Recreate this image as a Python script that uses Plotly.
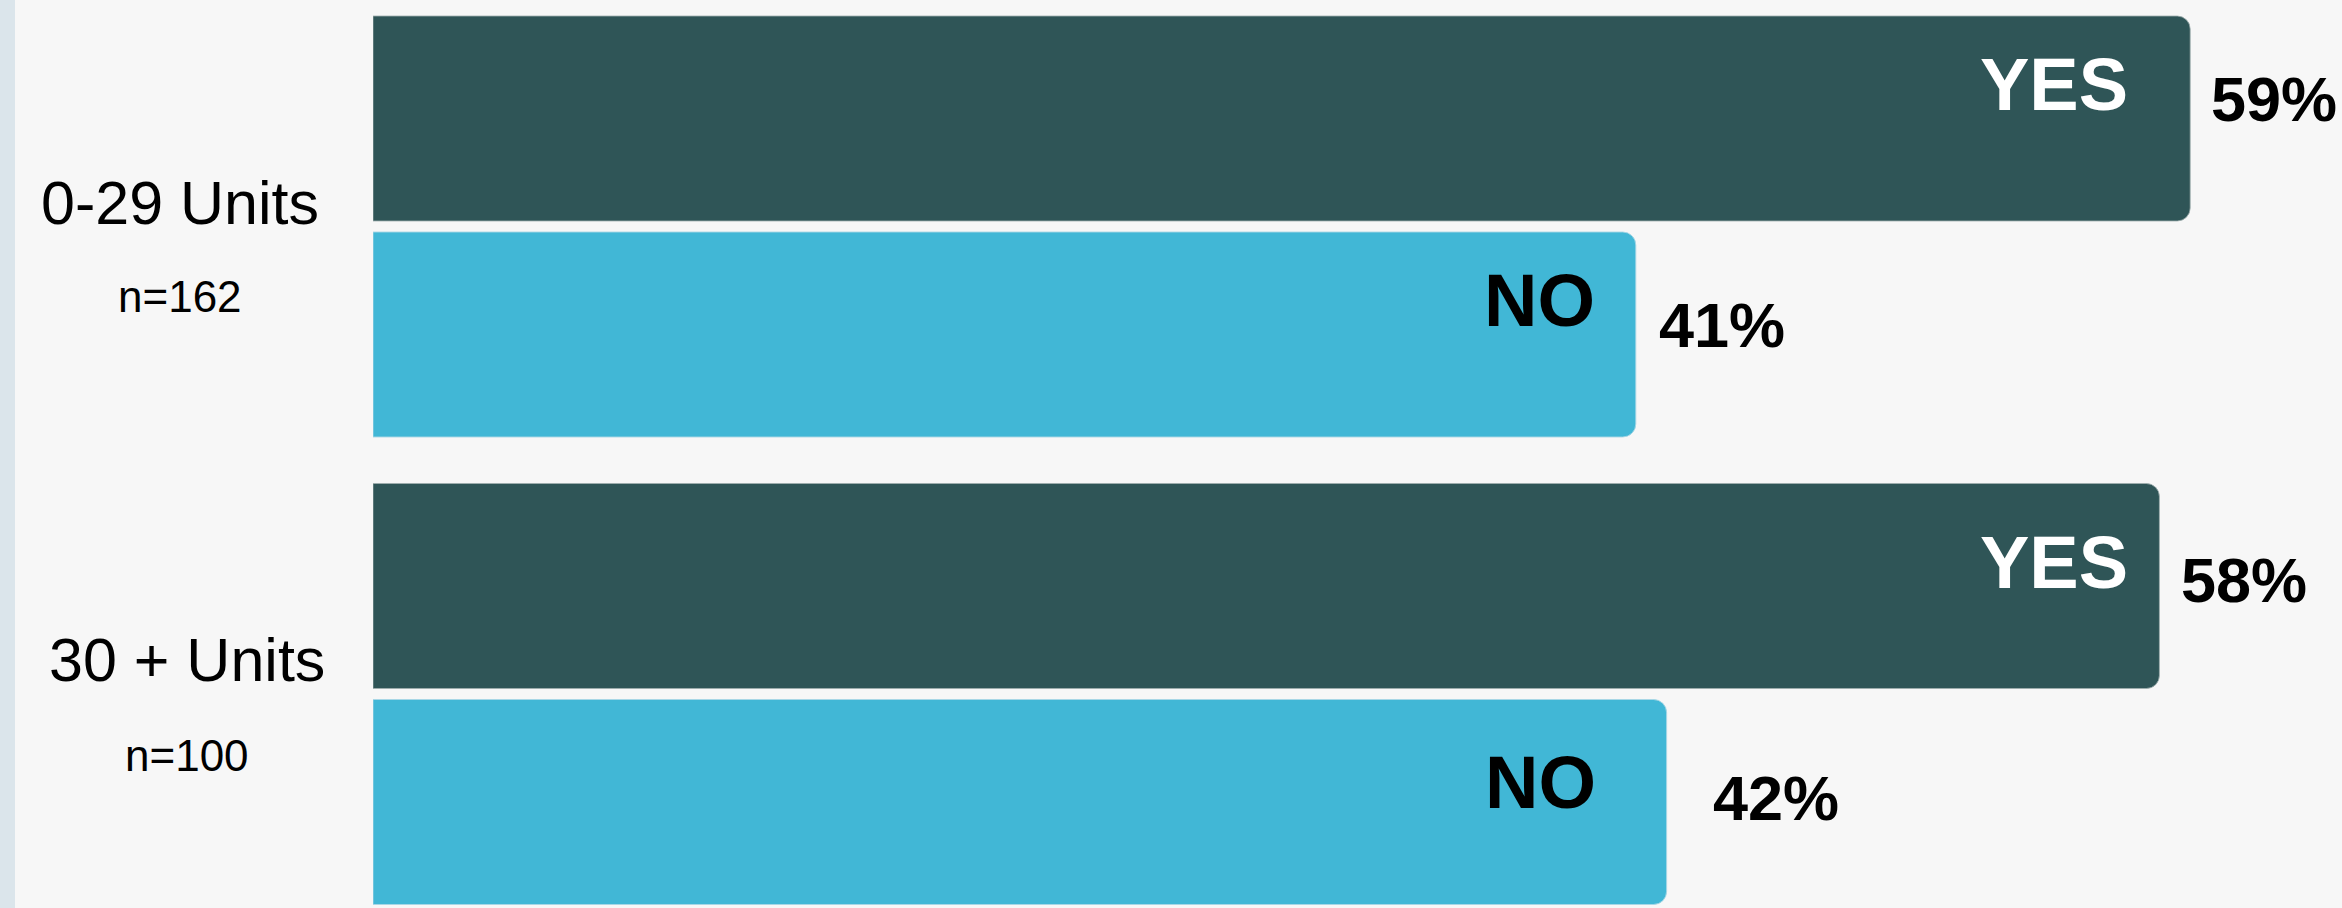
import plotly.graph_objects as go

# ---------------- data ----------------
categories = ["0-29 Units", "30 + Units"]
sample_sizes = ["n=162", "n=100"]
series_names = ["YES", "NO"]
yes_values = [59, 58]
no_values = [41, 42]

# ---------------- layout constants ----------------
W, H = 2342, 908
L = 373                      # left margin (bar baseline)
PX_PER_UNIT = 30.8
X_MAX = (W - L) / PX_PER_UNIT
FONT = "Liberation Sans, Arial, Helvetica, sans-serif"
BG = "#f7f7f7"
DARK = "#2f5557"
LIGHT = "#41b7d6"

fig = go.Figure()
fig.add_bar(
    y=categories, x=yes_values, orientation="h", name=series_names[0],
    marker=dict(color=DARK, line=dict(color="rgba(160,175,175,0.8)", width=1)),
    hoverinfo="skip",
)
fig.add_bar(
    y=categories, x=no_values, orientation="h", name=series_names[1],
    marker=dict(color=LIGHT, line=dict(color="rgba(170,215,230,0.9)", width=1)),
    hoverinfo="skip",
)

annotations = []

# inner labels (YES / NO) – shifts relative to bar tips, vertical shift relative to category centre
inner_specs = [
    (yes_values, series_names[0], "white", [-62, -31], [142.5, 131.5]),
    (no_values, series_names[1], "black", [-41, -71], [-74, -88]),
]
for vals, label, color, xs, ys in inner_specs:
    for i, cat in enumerate(categories):
        annotations.append(dict(
            x=vals[i], y=i, xref="x", yref="y", text=f"<b>{label}</b>",
            showarrow=False, xanchor="right", yanchor="middle",
            xshift=xs[i], yshift=ys[i], borderpad=0, borderwidth=0,
            font=dict(family=FONT, size=74, color=color),
        ))

# value labels outside the bars
outer_specs = [
    (yes_values, [21, 22], [128, 114.5]),
    (no_values, [23, 46], [-98, -103.5]),
]
for vals, xs, ys in outer_specs:
    for i, cat in enumerate(categories):
        annotations.append(dict(
            x=vals[i], y=i, xref="x", yref="y", text=f"<b>{vals[i]}%</b>",
            showarrow=False, xanchor="left", yanchor="middle",
            xshift=xs[i], yshift=ys[i], borderpad=0, borderwidth=0,
            font=dict(family=FONT, size=63, color="black"),
        ))

# category labels on the left
cat_x_px = [180, 187]
cat_y_shift = [23.5, 34]
n_y_shift = [-70, -61]
for i, cat in enumerate(categories):
    xp = (cat_x_px[i] - L) / (W - L)
    annotations.append(dict(
        x=xp, y=i, xref="paper", yref="y", text=cat, showarrow=False,
        xanchor="center", yanchor="middle", yshift=cat_y_shift[i],
        borderpad=0, borderwidth=0,
        font=dict(family=FONT, size=61, color="black"),
    ))
    annotations.append(dict(
        x=xp, y=i, xref="paper", yref="y", text=sample_sizes[i], showarrow=False,
        xanchor="center", yanchor="middle", yshift=n_y_shift[i],
        borderpad=0, borderwidth=0,
        font=dict(family=FONT, size=44, color="black"),
    ))

# thin light strip at the far left
shapes = [dict(
    type="rect", xref="paper", yref="paper",
    x0=(0 - L) / (W - L), x1=(15 - L) / (W - L), y0=0, y1=1,
    fillcolor="#dbe5eb", line=dict(width=0), layer="below",
)]

# category centre pixels: 226.5 and 694 -> spacing 467.5
spacing = 467.5
y_top = 0 - 226.5 / spacing
y_bot = 1 + (H - 694) / spacing

fig.update_layout(
    width=W, height=H, autosize=False,
    margin=dict(l=L, r=0, t=0, b=0, pad=0),
    paper_bgcolor=BG, plot_bgcolor=BG,
    barmode="group", bargap=0.076, bargroupgap=0.0509,
    barcornerradius=13,
    showlegend=False,
    xaxis=dict(range=[0, X_MAX], visible=False, fixedrange=True),
    yaxis=dict(type="category", range=[y_bot, y_top], showticklabels=False,
               showgrid=False, zeroline=False, showline=False, ticks="",
               fixedrange=True),
    annotations=annotations,
    shapes=shapes,
)

fig.write_html(
    "out.html",
    config={"displayModeBar": False},
    post_script="document.body.style.margin='0';document.body.style.overflow='hidden';"
                "document.documentElement.style.overflow='hidden';",
)
